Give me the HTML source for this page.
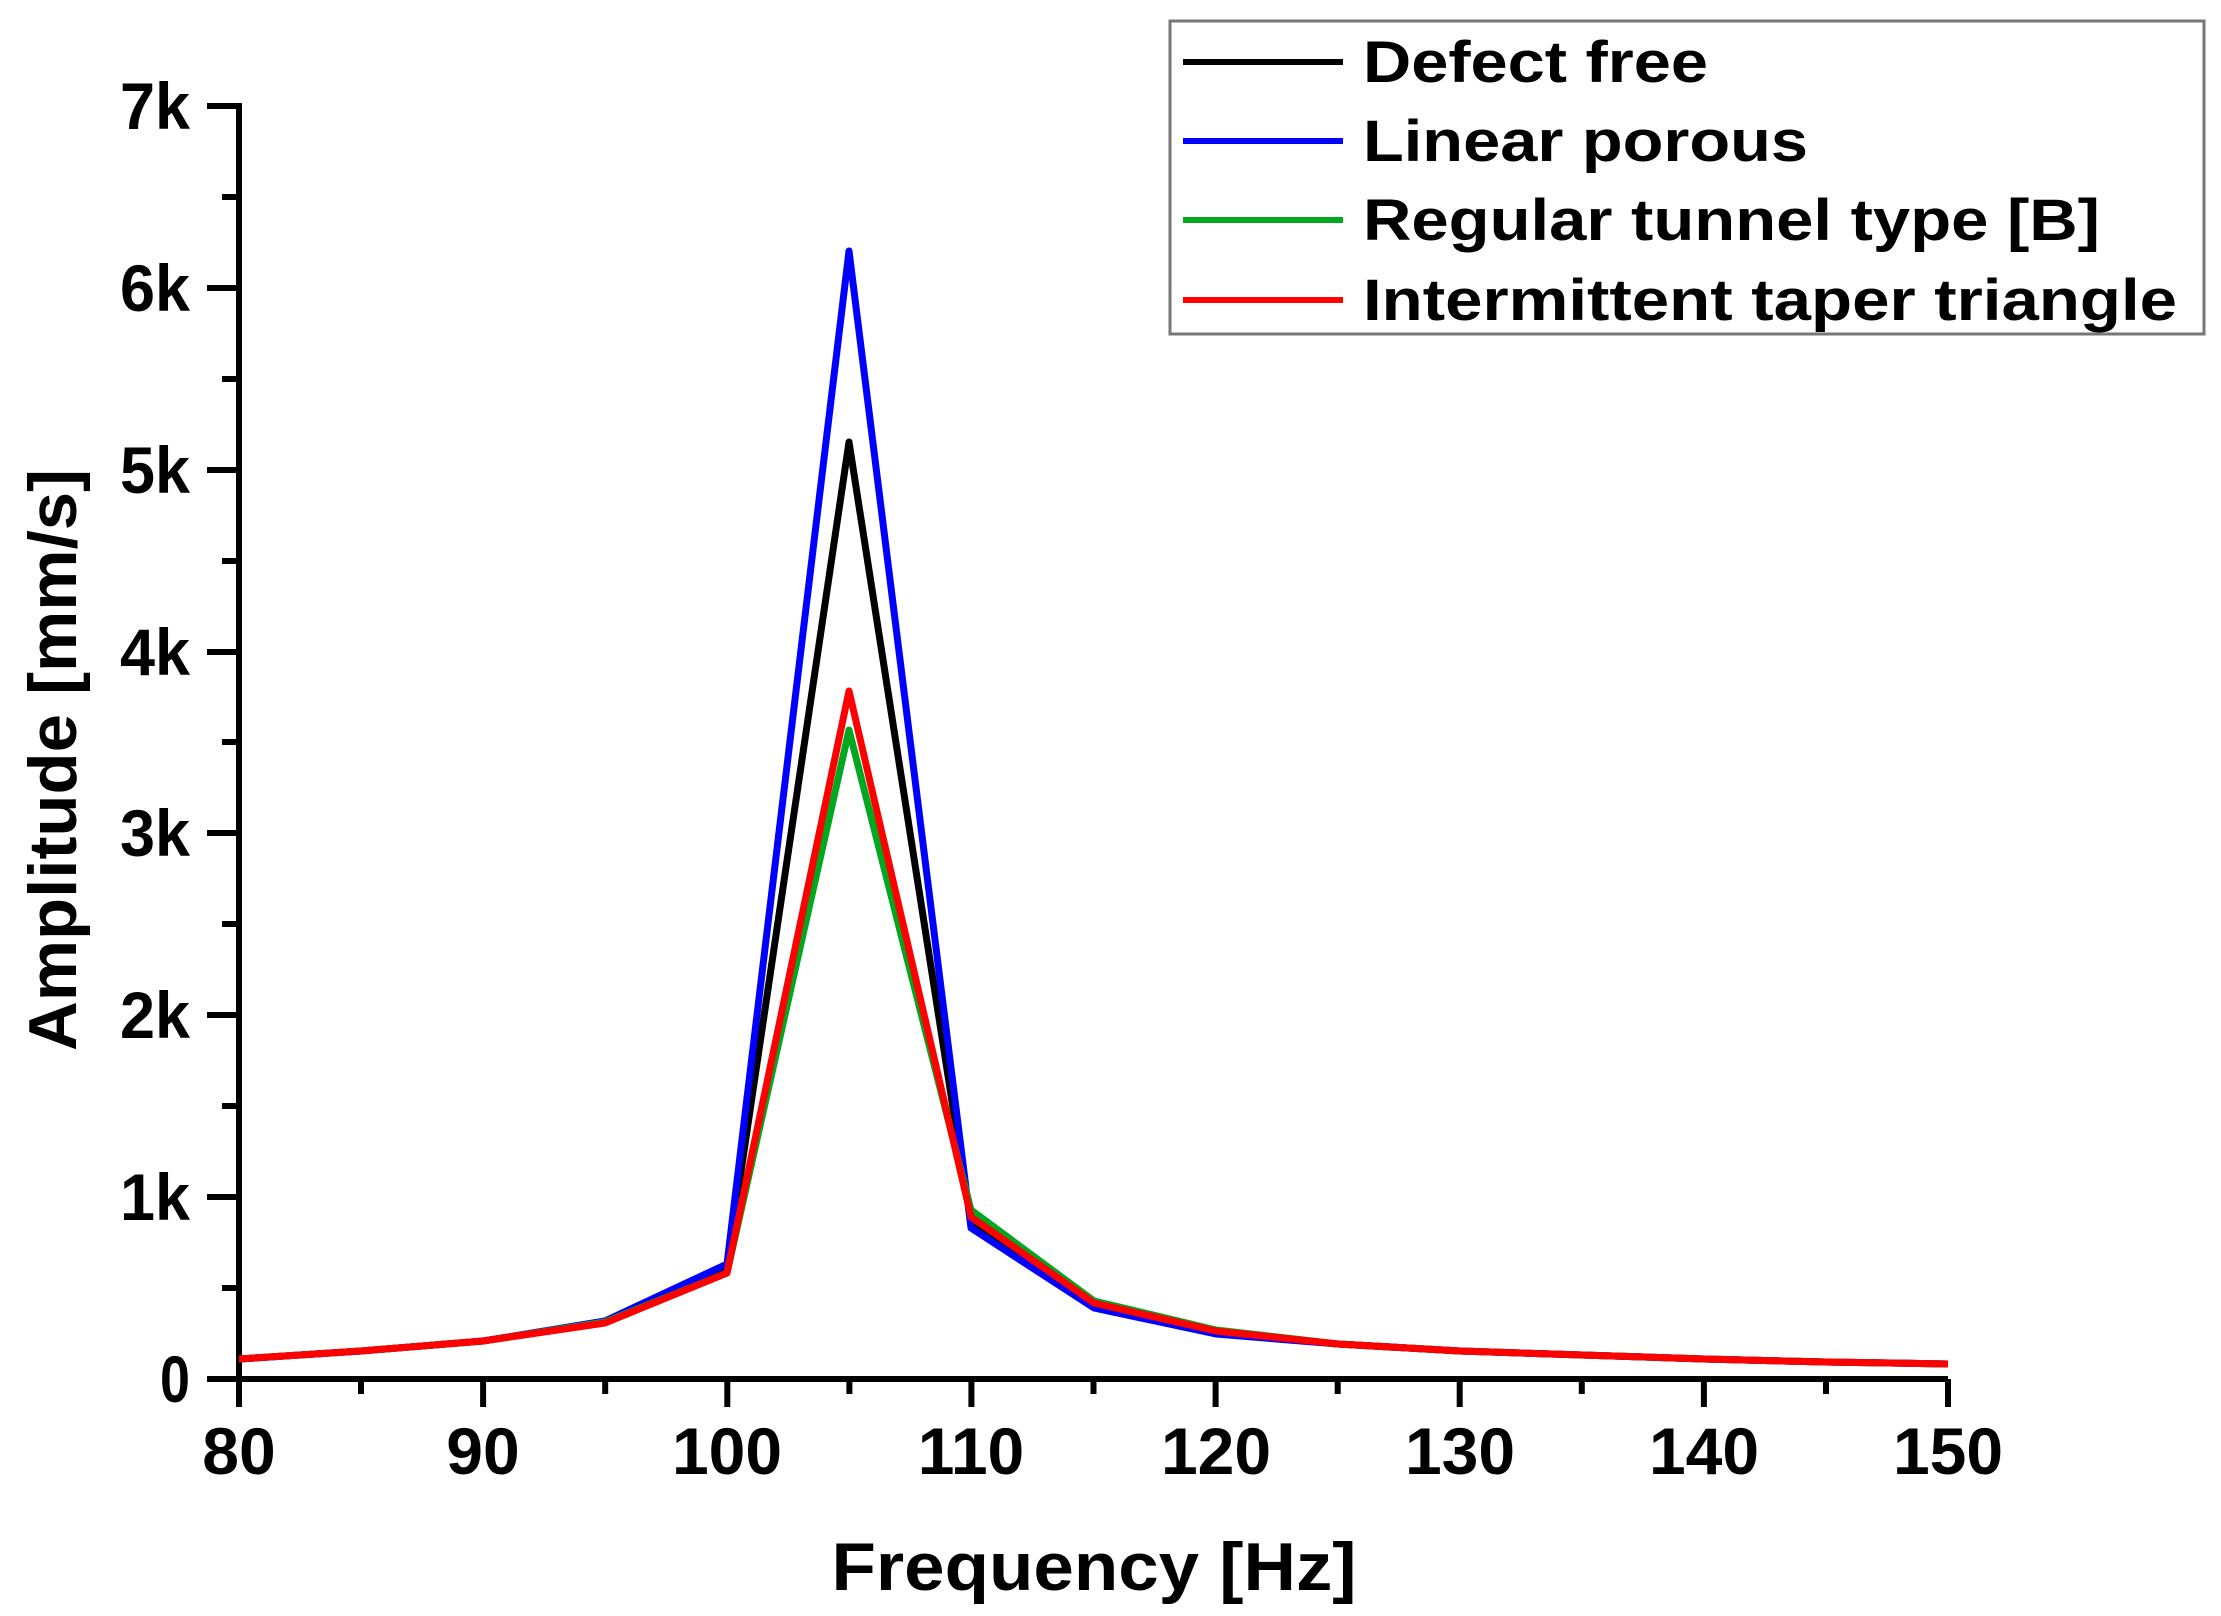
<!DOCTYPE html>
<html><head><meta charset="utf-8"><style>html,body{margin:0;padding:0;background:#fff}svg{display:block}</style></head>
<body>
<svg width="2221" height="1616" viewBox="0 0 2221 1616" xmlns="http://www.w3.org/2000/svg" font-family="Liberation Sans, Arial, sans-serif" font-weight="bold">
<rect width="2221" height="1616" fill="#fff"/>
<g stroke="#000" stroke-width="6" fill="none" stroke-linecap="butt">
<polyline points="207,106 239,106 239,1379 1948,1379"/>
<path d="M207,1379H239 M207,1197H239 M207,1015H239 M207,833H239 M207,652H239 M207,470H239 M207,288H239
M222,1288H239 M222,1106H239 M222,924H239 M222,742H239 M222,561H239 M222,379H239 M222,197H239"/>
<path d="M239,1379V1407 M483.1,1379V1407 M727.3,1379V1407 M971.4,1379V1407 M1215.6,1379V1407 M1459.7,1379V1407 M1703.9,1379V1407 M1948,1379V1407
M361,1379V1394 M605.2,1379V1394 M849.4,1379V1394 M1093.5,1379V1394 M1337.7,1379V1394 M1581.8,1379V1394 M1826,1379V1394"/>
</g>
<g font-size="66" text-anchor="end">
<text x="190" y="1402" textLength="30" lengthAdjust="spacingAndGlyphs">0</text><text x="190" y="1220" textLength="70" lengthAdjust="spacingAndGlyphs">1k</text><text x="190" y="1038" textLength="70" lengthAdjust="spacingAndGlyphs">2k</text><text x="190" y="856" textLength="70" lengthAdjust="spacingAndGlyphs">3k</text><text x="190" y="675" textLength="70" lengthAdjust="spacingAndGlyphs">4k</text><text x="190" y="493" textLength="70" lengthAdjust="spacingAndGlyphs">5k</text><text x="190" y="311" textLength="70" lengthAdjust="spacingAndGlyphs">6k</text><text x="190" y="129" textLength="70" lengthAdjust="spacingAndGlyphs">7k</text>
</g>
<g font-size="66" text-anchor="middle">
<text x="239" y="1474">80</text><text x="483" y="1474">90</text><text x="727" y="1474">100</text><text x="971" y="1474">110</text><text x="1216" y="1474">120</text><text x="1460" y="1474">130</text><text x="1704" y="1474">140</text><text x="1948" y="1474">150</text>
</g>
<text x="1094" y="1590" font-size="68" text-anchor="middle" textLength="525" lengthAdjust="spacingAndGlyphs">Frequency [Hz]</text>
<text transform="translate(76,760) rotate(-90)" font-size="68" text-anchor="middle" textLength="582" lengthAdjust="spacingAndGlyphs">Amplitude [mm/s]</text>
<g fill="none" stroke-width="7" stroke-linejoin="round">
<polyline stroke="#000" points="239,1359 361,1351 483,1341 605,1322 727,1266 849,442 971,1223 1094,1306 1216,1332 1338,1344 1460,1351 1582,1355 1704,1359 1826,1362 1948,1364"/>
<polyline stroke="#0000ff" points="239,1359 361,1351 483,1341 605,1321 727,1264 849,251 971,1228 1094,1308 1216,1334 1338,1344 1460,1351 1582,1355 1704,1359 1826,1362 1948,1364"/>
<polyline stroke="#00a820" points="239,1359 361,1351 483,1341 605,1322 727,1273 849,730 971,1210 1094,1301 1216,1330 1338,1344 1460,1351 1582,1355 1704,1359 1826,1362 1948,1364"/>
<polyline stroke="#ff0000" points="239,1359 361,1351 483,1341 605,1323 727,1273 849,691 971,1217 1094,1303 1216,1331 1338,1344 1460,1351 1582,1355 1704,1359 1826,1362 1948,1364"/>
</g>
<rect x="1170" y="21" width="1034" height="313" fill="#fff" stroke="#777" stroke-width="3"/>
<g stroke-width="6">
<line x1="1183" y1="62" x2="1343" y2="62" stroke="#000"/>
<line x1="1183" y1="141" x2="1343" y2="141" stroke="#0000ff"/>
<line x1="1183" y1="220" x2="1343" y2="220" stroke="#00a820"/>
<line x1="1183" y1="300" x2="1343" y2="300" stroke="#ff0000"/>
</g>
<g font-size="58">
<text x="1363" y="82" textLength="345" lengthAdjust="spacingAndGlyphs">Defect free</text>
<text x="1363" y="161" textLength="445" lengthAdjust="spacingAndGlyphs">Linear porous</text>
<text x="1363" y="240" textLength="737" lengthAdjust="spacingAndGlyphs">Regular tunnel type [B]</text>
<text x="1363" y="320" textLength="814" lengthAdjust="spacingAndGlyphs">Intermittent taper triangle</text>
</g>
</svg>
</body></html>
